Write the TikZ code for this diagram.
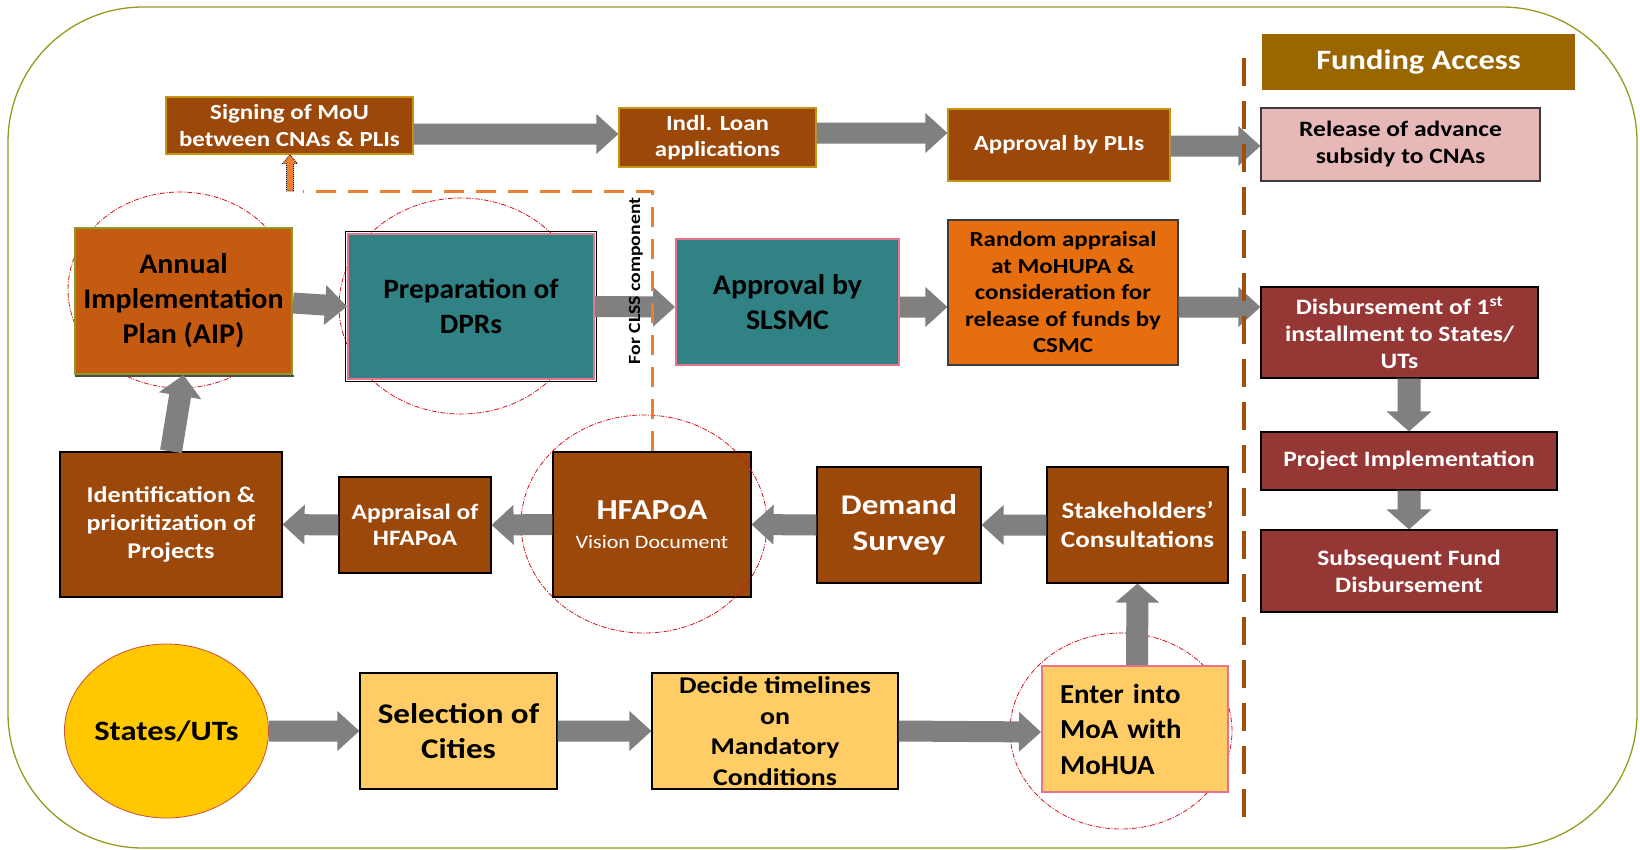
\documentclass[tikz,border=0pt]{standalone}
\usepackage{fontspec}
\setmainfont{Carlito}
\newfontfamily\fontW[FakeStretch=1.16]{Carlito}
\newfontfamily\fontN[FakeStretch=1.05]{Carlito}
\usetikzlibrary{calc,shapes.geometric}
\definecolor{brownc}{RGB}{155,72,10}
\definecolor{goldc}{RGB}{196,150,20}
\definecolor{dredc}{RGB}{149,55,53}
\definecolor{fundc}{RGB}{153,102,0}
\definecolor{relc}{RGB}{230,185,184}
\definecolor{aipc}{RGB}{197,90,17}
\definecolor{olivebox}{RGB}{140,155,40}
\definecolor{tealc}{RGB}{49,130,133}
\definecolor{pinkc}{RGB}{232,115,140}
\definecolor{rndc}{RGB}{230,110,14}
\definecolor{lorc}{RGB}{255,204,102}
\definecolor{stac}{RGB}{255,200,0}
\definecolor{stabord}{RGB}{200,80,60}
\definecolor{agray}{RGB}{128,128,128}
\definecolor{ringc}{RGB}{210,20,30}
\definecolor{orangec}{RGB}{237,125,49}
\definecolor{brownd}{RGB}{160,80,10}
\definecolor{olivec}{RGB}{150,155,30}
\definecolor{dgray}{RGB}{60,60,60}
\tikzset{
 box/.style={rectangle, inner sep=0pt, align=center},
 brA/.style={box, fill=brownc, draw=goldc, line width=1.2pt, text=white},
 brB/.style={box, fill=brownc, draw=black, line width=1.2pt, text=white},
 dred/.style={box, fill=dredc, draw=black, line width=1.2pt, text=white},
 tealbox/.style={box, fill=tealc, draw=pinkc, line width=2pt, text=black},
 lorbox/.style={box, fill=lorc, draw=black, line width=1.2pt, text=black},
 ring/.style={draw=ringc, line width=0.8pt, dash pattern=on 5pt off 1.5pt on 1pt off 1.5pt},
 barrow/.style={fill=agray},
 smallarrow/.style={fill=orangec, draw=black, line width=0.6pt, dash pattern=on 1pt off 1pt},
 odash/.style={draw=orangec, line width=3pt, dash pattern=on 20pt off 12pt},
 fS/.style={font=\fontW\bfseries\fontsize{21.5}{26.5}\selectfont},
 fM/.style={font=\fontW\bfseries\fontsize{22}{27}\selectfont},
 fL/.style={font=\fontN\bfseries\fontsize{28.5}{35}\selectfont},
}
% block arrow: #2 start, #3 end, #4 half shaft, #5 half head, #6 head length
\newcommand\barr[6][barrow]{%
 \path[#1] let \p1=(#2), \p2=(#3), \n1={atan2(\y2-\y1,\x2-\x1)}, \n2={veclen(\x2-\x1,\y2-\y1)} in
 [shift={(\p1)}, rotate=\n1] (0pt,-#4pt) -- (\n2-#6pt,-#4pt) -- (\n2-#6pt,-#5pt) -- (\n2,0pt)
 -- (\n2-#6pt,#5pt) -- (\n2-#6pt,#4pt) -- (0pt,#4pt) -- cycle;}
\begin{document}
\begin{tikzpicture}[x=1pt,y=-1pt]
\useasboundingbox (0,0) rectangle (1640,849);
\draw[olivec, line width=1.3pt, rounded corners=135pt] (8,7) rectangle (1637,848);

% rings behind boxes
\draw[ring] (180,290) ellipse [x radius=112pt, y radius=98pt];
\draw[ring] (461,306) ellipse [x radius=122pt, y radius=108pt];
\draw[ring] (1121,731) ellipse [x radius=111pt, y radius=98pt];

% top row
\node[brA, fS, minimum width=247pt, minimum height=57pt] (sign) at (289.5,125.5) {Signing of MoU\\between CNAs \& PLIs};
\node[brA, fS, minimum width=197pt, minimum height=59pt] (indl) at (717.5,137.5) {Indl. Loan\\applications};
\node[brA, fS, minimum width=222pt, minimum height=72pt] (pli) at (1059,145) {Approval by PLIs};

% funding column
\node[box, fill=fundc, text=white, minimum width=313pt, minimum height=56pt, font=\fontW\bfseries\fontsize{28}{34}\selectfont] (fund) at (1418.5,62) {Funding Access};
\node[box, fill=relc, draw=dgray, line width=1.2pt, fM, minimum width=279pt, minimum height=73pt] (rel) at (1400.5,144.5) {Release of advance\\subsidy to CNAs};
\node[dred, fM, minimum width=277pt, minimum height=91pt] (dis) at (1399.5,332.5) {Disbursement of 1\textsuperscript{st}\\installment to States/\\UTs};
\node[dred, fM, minimum width=296pt, minimum height=58pt] (prj) at (1409,461) {Project Implementation};
\node[dred, fM, minimum width=296pt, minimum height=82pt] (sub) at (1409,571) {Subsequent Fund\\Disbursement};

% second row
\node[box, fill=aipc, draw=olivebox, line width=2pt, fL, minimum width=217pt, minimum height=146pt] (aip) at (183.5,301) {Annual\\Implementation\\Plan (AIP)};
\fill[black!70] ([xshift=1pt]aip.south west) rectangle ([shift={(1pt,-2pt)}]aip.south east);
\node[tealbox, fL, font=\fontN\bfseries\fontsize{28}{35}\selectfont, minimum width=246pt, minimum height=145pt] (dpr) at (471,306.5) {Preparation of\\DPRs};
\draw[black, line width=1.2pt] ([shift={(-1.8pt,-1.8pt)}]dpr.south west) rectangle ([shift={(1.8pt,1.8pt)}]dpr.north east);
\node[tealbox, fL, minimum width=223pt, minimum height=126pt] (sls) at (787.5,302) {Approval by\\SLSMC};
\node[box, fill=rndc, draw=dgray, line width=1.2pt, fS, minimum width=230pt, minimum height=145pt] (rnd) at (1063,292.5) {Random appraisal\\at MoHUPA \&\\consideration for\\release of funds by\\CSMC};

% third row
\node[brB, font=\fontW\bfseries\fontsize{22.5}{27.7}\selectfont, minimum width=222pt, minimum height=145pt] (idn) at (171,524.5) {Identification \&\\prioritization of\\Projects};
\node[brB, font=\fontW\bfseries\fontsize{22}{26.7}\selectfont, minimum width=152pt, minimum height=96pt] (apr) at (415,525) {Appraisal of\\HFAPoA};
\node[brB, font=\fontW\bfseries\fontsize{29}{29}\selectfont, minimum width=198pt, minimum height=145pt] (hfa) at (652,524.5) {HFAPoA\\{\mdseries\fontsize{19}{24}\selectfont Vision Document}};
\node[brB, font=\fontW\bfseries\fontsize{28.5}{36}\selectfont, minimum width=164pt, minimum height=116pt] (dem) at (899,525) {Demand\\Survey};
\node[brB, font=\fontW\bfseries\fontsize{23.3}{29}\selectfont, minimum width=181pt, minimum height=116pt] (stk) at (1137.5,525) {Stakeholders’\\Consultations};
\draw[ring] (644,524) ellipse [x radius=123pt, y radius=109pt];

% bottom row
\node[ellipse, inner sep=0pt, fill=stac, draw=stabord, line width=0.8pt, minimum width=197pt, minimum height=174pt, font=\fontW\bfseries\fontsize{28}{34}\selectfont] (sta) at (166.5,731) {States/UTs};
\node[lorbox, font=\fontW\bfseries\fontsize{28.5}{35}\selectfont, minimum width=197pt, minimum height=116pt] (sel) at (458.5,731) {Selection of\\Cities};
\node[lorbox, font=\fontW\bfseries\fontsize{24}{30.5}\selectfont, minimum width=246pt, minimum height=116pt] (dec) at (775,731) {Decide timelines\\on\\Mandatory\\Conditions};
\node[box, fill=lorc, draw=pinkc, line width=2pt, text=black, align=left, text width=150pt, minimum width=186pt, minimum height=126pt, font=\fontN\bfseries\fontsize{27.5}{35.5}\selectfont] (ent) at (1135,729) {Enter into\\MoA with\\MoHUA};

% arrows
\barr{[yshift=-8.5pt]sign.east}{[yshift=3.5pt]indl.west}{10.5}{20}{22}
\barr{[yshift=4.5pt]indl.east}{[yshift=12pt]pli.west}{10.5}{20}{22}
\barr{[yshift=-1pt]pli.east}{[yshift=-1.5pt]rel.west}{10.5}{20}{22}
\barr{[yshift=-2pt]aip.east}{dpr.west}{10.5}{20}{22}
\barr{dpr.east}{[yshift=-5pt]sls.west}{10.5}{20}{22}
\barr{[yshift=-5pt]sls.east}{[yshift=-14.5pt]rnd.west}{10.5}{20}{22}
\barr{[yshift=-14.5pt]rnd.east}{[yshift=25.5pt]dis.west}{10.5}{20}{22}
\barr{[xshift=9.5pt]dis.south}{prj.north}{11.5}{22.5}{20}
\barr{prj.south}{sub.north}{11.5}{22.5}{20}
\barr{stk.west}{dem.east}{10.5}{20}{22}
\barr{dem.west}{hfa.east}{10.5}{20}{22}
\barr{hfa.west}{apr.east}{10.5}{20}{22}
\barr{apr.west}{idn.east}{10.5}{20}{22}
\barr{idn.north}{aip.south}{11}{21.5}{21}
\barr{sta.east}{sel.west}{10.5}{20}{22}
\barr{sel.east}{dec.west}{10.5}{20}{22}
\barr{dec.east}{[yshift=-3pt]ent.west}{10.5}{20}{22}
\barr{[xshift=2pt]ent.north}{stk.south}{11}{22}{19}

% dashed separators
\coordinate (dtop) at (1244,58);
\coordinate (dbot) at (1244,828);
\draw[brownd, line width=3.5pt, dash pattern=on 28pt off 15pt] (dtop) -- (dbot);
\coordinate (cl) at (290,191);
\draw[odash] (hfa.north) |- ([xshift=13pt]cl);
\barr[smallarrow]{cl}{cl |- sign.south}{3.5}{7.5}{9}

% CLSS label
\node[rotate=90, font=\fontW\bfseries\fontsize{17}{20}\selectfont] (clss) at (636,281) {For CLSS component};
\end{tikzpicture}
\end{document}
